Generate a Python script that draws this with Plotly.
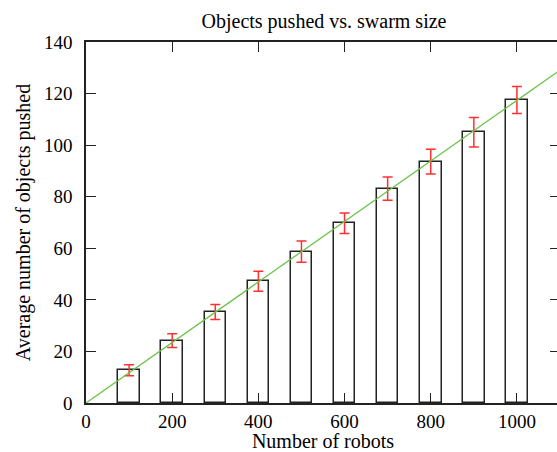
import numpy as np
import plotly.graph_objects as go

robots = [100, 200, 300, 400, 500, 600, 700, 800, 900, 1000]
objects_pushed = [12.7, 24.2, 35.3, 47.2, 58.7, 69.7, 83.1, 93.6, 105.0, 117.5]
errors = [2.1, 2.7, 2.9, 3.9, 4.1, 4.0, 4.5, 4.8, 5.7, 5.2]
x_ticks = [0, 200, 400, 600, 800, 1000]
y_ticks = [0, 20, 40, 60, 80, 100, 120, 140]

x = np.array(robots, dtype=float)
y = np.array(objects_pushed, dtype=float)
slope = float((x * y).sum() / (x * x).sum())  # least-squares fit through origin

X_MAX = 1100
fit_x = np.array([0.0, X_MAX])
fit_y = slope * fit_x

FONT = "Liberation Serif, Times New Roman, serif"
W, H = 562, 452

fig = go.Figure()
fig.add_trace(go.Bar(
    x=robots, y=objects_pushed, width=[50] * len(robots),
    marker=dict(color="white", line=dict(color="#222222", width=1.5)),
    showlegend=False,
))
fig.add_trace(go.Scatter(
    x=robots, y=objects_pushed, mode="markers",
    marker=dict(size=0.1, color="rgba(0,0,0,0)"),
    error_y=dict(type="data", array=errors, visible=True, color="#ff3030",
                 thickness=1.5, width=5),
    showlegend=False, hoverinfo="skip",
))
fig.add_trace(go.Scatter(
    x=fit_x, y=fit_y, mode="lines",
    line=dict(color="#6cc24a", width=1.3),
    showlegend=False,
))

fig.update_layout(
    width=W, height=H,
    margin=dict(l=86, r=0, t=42, b=49),
    paper_bgcolor="white", plot_bgcolor="white",
    font=dict(family=FONT, size=19, color="black"),
    title=dict(text="Objects pushed vs. swarm size", x=324 / W, xanchor="center",
               y=1 - 21 / H, yanchor="middle", font=dict(family=FONT, size=20)),
    bargap=0,
)
fig.update_xaxes(
    range=[0, X_MAX], tickvals=x_ticks, ticktext=[str(v) for v in x_ticks],
    ticks="inside", ticklen=10, tickcolor="#222222", tickwidth=1,
    showline=True, linecolor="#222222", linewidth=1.5, mirror="ticks",
    showgrid=False, zeroline=False,
    title=dict(text="Number of robots", standoff=0, font=dict(family=FONT, size=20)),
)
fig.update_yaxes(
    range=[0, 140], tickvals=y_ticks, ticktext=[str(v) for v in y_ticks],
    ticks="inside", ticklen=10, tickcolor="#222222", tickwidth=1,
    ticklabelstandoff=8,
    showline=True, linecolor="#222222", linewidth=1.5, mirror="ticks",
    showgrid=False, zeroline=False,
    title=dict(text="Average number of objects pushed", standoff=8,
               font=dict(family=FONT, size=20)),
)

fig.write_html(
    "out.html",
    config={"displayModeBar": False},
    post_script=("document.body.style.margin='0';"
                 "document.body.style.overflow='hidden';"
                 "document.documentElement.style.overflow='hidden';"),
)
